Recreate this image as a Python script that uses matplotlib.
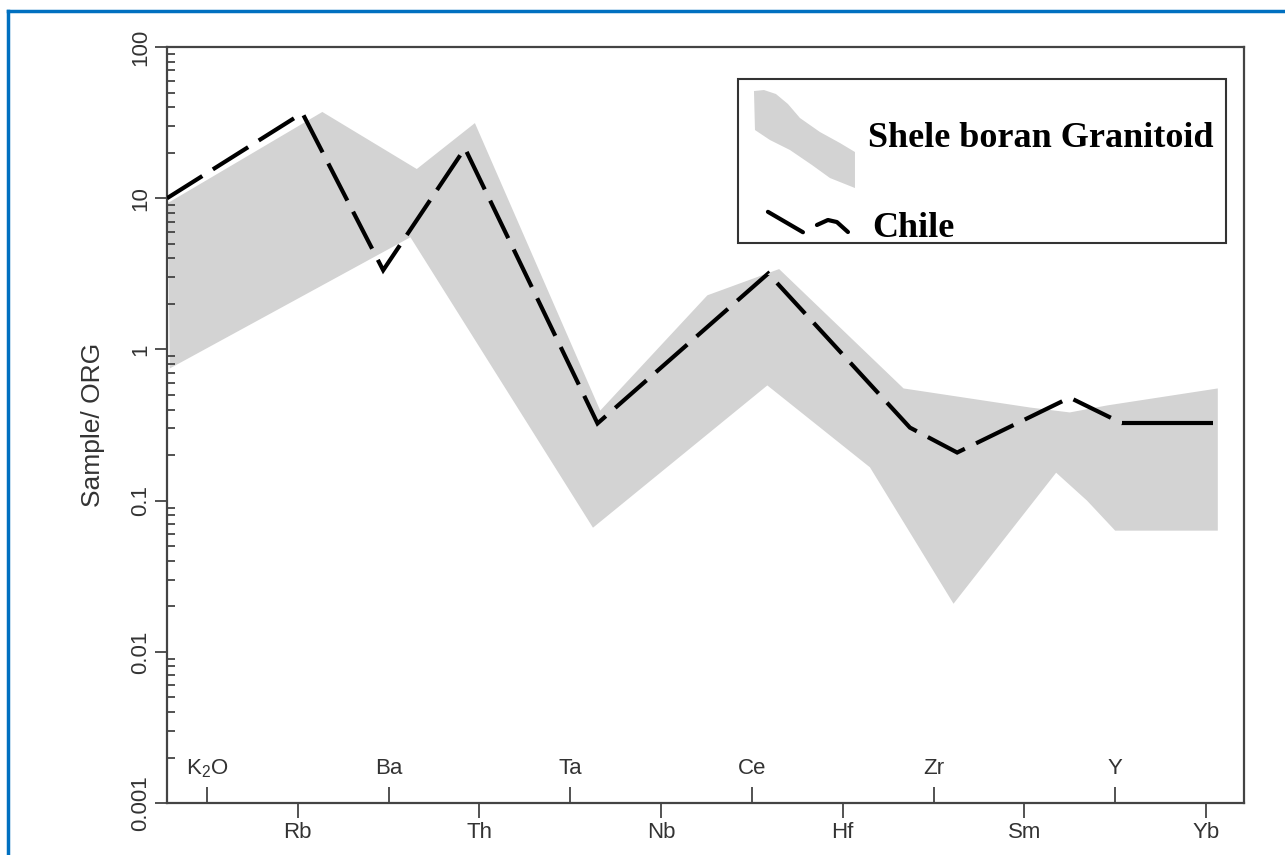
import numpy as np
import matplotlib.pyplot as plt
from matplotlib import font_manager
from matplotlib.ticker import LogLocator, NullFormatter
from matplotlib.patches import Rectangle, Polygon
from matplotlib.lines import Line2D

# element order on the x axis (1..12)
elements = ['K$_2$O', 'Rb', 'Ba', 'Th', 'Ta', 'Nb', 'Ce', 'Hf', 'Zr', 'Sm', 'Y', 'Yb']
ytick_vals = [0.001, 0.01, 0.1, 1, 10, 100]
ytick_labels = ['0.001', '0.01', '0.1', '1', '10', '100']

# Chile pattern (x = position along the element axis)
chile_x = [0.56, 2.05, 2.94, 3.84, 5.30, 7.18, 8.74, 9.26, 10.50, 11.08, 12.08]
chile_y = [10.0, 36.6, 3.34, 21.4, 0.324, 3.18, 0.304, 0.208, 0.48, 0.324, 0.324]

# Shele boran granitoid field, upper and lower envelope
upper_x = [0.57, 2.27, 3.31, 3.95, 5.33, 6.51, 7.30, 8.67, 10.06, 10.50, 10.91, 12.13]
upper_y = [9.3, 37.2, 15.6, 31.4, 0.394, 2.28, 3.4, 0.552, 0.413, 0.383, 0.426, 0.552]
lower_x = [12.13, 11.00, 10.69, 10.35, 9.22, 8.30, 7.17, 5.25, 3.24, 0.59]
lower_y = [0.0633, 0.0633, 0.100, 0.153, 0.0208, 0.166, 0.578, 0.0662, 5.52, 0.748]

names = {f.name for f in font_manager.fontManager.ttflist}
narrow = 'Liberation Sans Narrow' if 'Liberation Sans Narrow' in names else 'Liberation Sans'
plt.rcParams['font.family'] = 'Liberation Sans'
plt.rcParams['mathtext.default'] = 'regular'

axcol = '#444444'
txtcol = '#333333'

fig = plt.figure(figsize=(12.85, 8.55), dpi=100)
ax = fig.add_axes([0.12996, 0.0608, 0.8381, 0.8842])

# field and pattern
ax.fill(upper_x + lower_x, upper_y + lower_y, color='#d3d3d3', lw=0, zorder=1)
ax.plot(chile_x[:-1], chile_y[:-1], color='black', lw=3.0, dashes=(10, 3),
        dash_joinstyle='miter', dash_capstyle='butt', zorder=3)
ax.plot(chile_x[-2:], chile_y[-2:], color='black', lw=3.0, solid_capstyle='butt', zorder=3)

ax.set_yscale('log')
ax.set_ylim(0.001, 100)
ax.set_xlim(0.5596, 12.418)

# y axis
ax.set_yticks(ytick_vals, labels=ytick_labels)
ax.yaxis.set_minor_locator(LogLocator(base=10, subs=np.arange(2, 10)))
ax.yaxis.set_minor_formatter(NullFormatter())
ax.tick_params(axis='y', which='major', direction='out', length=8.5, width=1.3,
               color=axcol, labelcolor=txtcol, labelsize=16, labelrotation=90, pad=3)
ax.tick_params(axis='y', which='minor', direction='in', length=5.5, width=1.3, color=axcol)
for lab in ax.get_yticklabels():
    lab.set_fontfamily(narrow)
    lab.set_va('center')
ax.set_ylabel('Sample/ ORG', fontsize=19, color=txtcol, labelpad=18)

# x axis: even elements below, odd elements above (inside)
ax.set_xticks(range(2, 13, 2), labels=elements[1::2])
ax.set_xticks(range(1, 12, 2), minor=True)
ax.tick_params(axis='x', which='major', direction='out', length=11, width=1.3,
               color=axcol, labelcolor=txtcol, labelsize=16, pad=3)
ax.tick_params(axis='x', which='minor', direction='in', length=11.5, width=1.3, color=axcol)
for lab in ax.get_xticklabels():
    lab.set_fontfamily(narrow)
for i in range(0, 12, 2):
    ax.text(i + 1, 0.045, elements[i], transform=ax.get_xaxis_transform(),
            ha='center', va='center', fontsize=16, color=txtcol, family=narrow)

for s in ax.spines.values():
    s.set_color(axcol)
    s.set_linewidth(1.6)

# legend box (axes fraction)
ax.add_patch(Rectangle((0.530, 0.741), 0.453, 0.217, transform=ax.transAxes,
                       fill=False, ec='#333333', lw=1.5, zorder=5))
blob_px = [(754, 91), (755, 130), (770, 140), (790, 150), (812, 165), (830, 178),
           (855, 188), (855, 152), (840, 143), (820, 132), (800, 118), (788, 104),
           (776, 94), (764, 90)]
blob = [((px - 167) / 1077, (803 - py) / 756) for px, py in blob_px]
ax.add_patch(Polygon(blob, closed=True, transform=ax.transAxes, fc='#d3d3d3', lw=0, zorder=5))
ax.add_line(Line2D([0.558, 0.5905], [0.782, 0.755], transform=ax.transAxes,
                   color='black', lw=3.0, solid_capstyle='round', zorder=6))
ax.add_line(Line2D([0.6035, 0.6137, 0.622, 0.6323], [0.7646, 0.7712, 0.7685, 0.7553],
                   transform=ax.transAxes, color='black', lw=3.0,
                   solid_capstyle='round', zorder=6))
ax.text(0.651, 0.868, 'Shele boran Granitoid', transform=ax.transAxes, ha='left',
        va='baseline', fontsize=26, fontweight='bold', family='Liberation Serif', zorder=6)
ax.text(0.655, 0.749, 'Chile', transform=ax.transAxes, ha='left',
        va='baseline', fontsize=26, fontweight='bold', family='Liberation Serif', zorder=6)

# blue frame of the original figure
blue = '#0070C0'
fig.add_artist(Line2D([8 / 1285, 8 / 1285], [0, 1 - 11 / 855], transform=fig.transFigure,
                      color=blue, lw=2.5))
fig.add_artist(Line2D([8 / 1285, 1], [1 - 11 / 855, 1 - 11 / 855], transform=fig.transFigure,
                      color=blue, lw=2.5))

fig.savefig('out.png', dpi=100)
